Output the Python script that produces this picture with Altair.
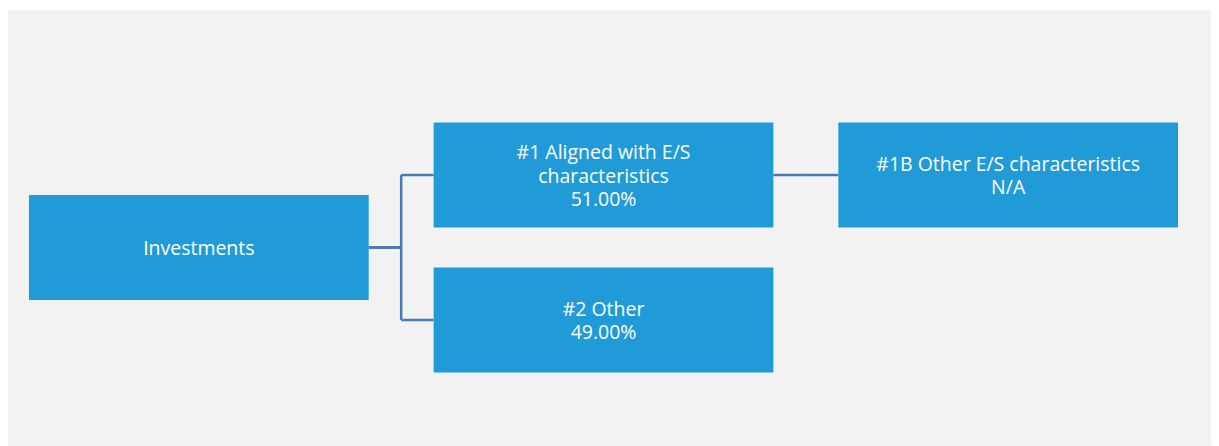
import altair as alt
import pandas as pd

# ---- data ----
node_ids = ["inv", "n1", "n2", "n1b"]
node_names = [
    ["Investments"],
    ["#1 Aligned with E/S", "characteristics"],
    ["#2 Other"],
    ["#1B Other E/S characteristics"],
]
node_values = ["", "51.00%", "49.00%", "N/A"]
node_parents = ["", "inv", "inv", "n1"]

# ---- layout (pixels inside the chart) ----
W, H = 1204, 438
PANEL = dict(x0=0, x1=1204, y0=2, y1=438)
BOX_W, BOX_H = 340, 105
LEVEL_X0 = 21
LEVEL_STEP = 405
ROOT_Y = 239.5
SIBLING_GAP = 145
LINE_H = 23.5

depth = {}
for nid, par in zip(node_ids, node_parents):
    depth[nid] = 0 if par == "" else depth[par] + 1

yc = {}
for nid, par in zip(node_ids, node_parents):
    if par == "":
        yc[nid] = ROOT_Y
for nid in node_ids:
    kids = [k for k, p in zip(node_ids, node_parents) if p == nid]
    n = len(kids)
    for i, k in enumerate(kids):
        yc[k] = yc[nid] + (i - (n - 1) / 2) * SIBLING_GAP

rows = []
for nid, name, val in zip(node_ids, node_names, node_values):
    x0 = LEVEL_X0 + depth[nid] * LEVEL_STEP
    lines = list(name) + ([val] if val else [])
    rows.append(dict(id=nid, x0=x0, x1=x0 + BOX_W, xc=x0 + BOX_W / 2,
                     y0=yc[nid] - BOX_H / 2, y1=yc[nid] + BOX_H / 2,
                     yt=yc[nid] - (len(lines) - 1) / 2 * LINE_H,
                     label=lines))
boxes = pd.DataFrame(rows)

segs = []
for nid, par in zip(node_ids, node_parents):
    if par == "":
        continue
    px = LEVEL_X0 + depth[par] * LEVEL_STEP + BOX_W
    cx = LEVEL_X0 + depth[nid] * LEVEL_STEP
    mx = (px + cx) / 2
    py, cy = yc[par], yc[nid]
    segs += [dict(a=px, b=mx, c=py, d=py),
             dict(a=mx, b=mx, c=py, d=cy),
             dict(a=mx, b=cx, c=cy, d=cy)]
lines_df = pd.DataFrame(segs)

xs = alt.Scale(domain=[0, W], range=[0, W])
ys = alt.Scale(domain=[0, H], reverse=True)

panel_layer = alt.Chart(pd.DataFrame([PANEL])).mark_rect(color="#f2f2f2").encode(
    x=alt.X("x0:Q", scale=xs, axis=None), x2="x1:Q",
    y=alt.Y("y0:Q", scale=ys, axis=None), y2="y1:Q",
)

box_layer = alt.Chart(boxes).mark_rect(color="#209bd7").encode(
    x=alt.X("x0:Q", scale=xs, axis=None), x2="x1:Q",
    y=alt.Y("y0:Q", scale=ys, axis=None), y2="y1:Q",
)

text_layer = alt.Chart(boxes).mark_text(
    color="white", font="Open Sans", fontSize=19.5, align="center",
    baseline="middle", lineHeight=LINE_H, dy=1.5,
).encode(
    x=alt.X("xc:Q", scale=xs, axis=None),
    y=alt.Y("yt:Q", scale=ys, axis=None),
    text="label",
)

line_layer = alt.Chart(lines_df).mark_rule(color="#4a78b2", strokeWidth=2.5).encode(
    x=alt.X("a:Q", scale=xs, axis=None), x2="b:Q",
    y=alt.Y("c:Q", scale=ys, axis=None), y2="d:Q",
)

chart = alt.layer(panel_layer, line_layer, box_layer, text_layer).properties(
    width=W, height=H, padding=0, autosize=alt.AutoSizeParams(type="none"),
    background="white",
).configure_view(stroke=None)

chart.save("out.html", embed_options={"renderer": "svg", "actions": False})
